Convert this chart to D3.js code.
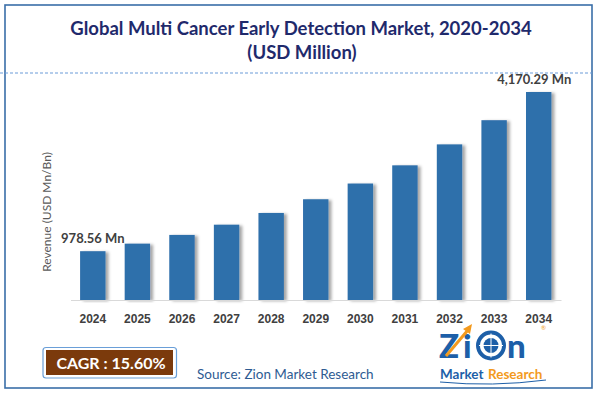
<!DOCTYPE html>
<html>
<head>
<meta charset="utf-8">
<style>
body { margin: 0; background: #fff; }
svg { display: block; font-family: Lato, "Open Sans", sans-serif; }
.xaxis text { font-size: 12px; font-weight: bold; fill: #404040; }
.xaxis path { stroke: #d9d9d9; }
.xaxis line { display: none; }
.label { font-size: 13px; font-weight: bold; fill: #404040; }
</style>
</head>
<body>
<svg width="598" height="394"></svg>
<script src="https://cdn.jsdelivr.net/npm/d3@7"></script>
<script>
var years = ["2024", "2025", "2026", "2027", "2028", "2029", "2030", "2031", "2032", "2033", "2034"];
var revenue = [978.56, 1130, 1305, 1510, 1745, 2020, 2335, 2700, 3120, 3605, 4170.29];
var labels = { "2024": "978.56 Mn", "2034": "4,170.29 Mn" };

var svg = d3.select("svg"),
    width = +svg.attr("width"),
    height = +svg.attr("height");

var defs = svg.append("defs");
var shadow = defs.append("filter").attr("id", "shadow")
    .attr("x", "-20%").attr("y", "-5%").attr("width", "160%").attr("height", "110%");
shadow.append("feDropShadow")
    .attr("dx", 3).attr("dy", 1).attr("stdDeviation", 1.6)
    .attr("flood-color", "#000").attr("flood-opacity", 0.35);

// outer frame
svg.append("rect")
    .attr("x", 5).attr("y", 5).attr("width", 587).attr("height", 383)
    .attr("fill", "none").attr("stroke", "#3a6ea8").attr("stroke-width", 1.6);

// title
svg.append("text")
    .attr("x", 301).attr("y", 35)
    .attr("text-anchor", "middle")
    .style("font-size", "18.5px").style("font-weight", "bold").style("fill", "#1f2a6c")
    .text("Global Multi Cancer Early Detection Market, 2020-2034");
svg.append("text")
    .attr("x", 302).attr("y", 59)
    .attr("text-anchor", "middle")
    .style("font-size", "18.5px").style("font-weight", "bold").style("fill", "#1f2a6c")
    .text("(USD Million)");

// dashed separator
svg.append("line")
    .attr("x1", 0).attr("x2", 592).attr("y1", 73).attr("y2", 73)
    .attr("stroke", "#6b9bd8").attr("stroke-width", 1).attr("stroke-dasharray", "3,2");

var x = d3.scaleBand()
    .domain(years)
    .range([70.5, 561])
    .paddingInner(0.43)
    .paddingOuter(0.215);

var y = d3.scaleLinear()
    .domain([0, d3.max(revenue)])
    .range([300, 92]);

var data = years.map(function(d, i) { return { year: d, value: revenue[i] }; });

svg.append("g")
    .selectAll("rect")
    .data(data)
    .enter().append("rect")
      .attr("x", function(d) { return x(d.year); })
      .attr("y", function(d) { return y(d.value); })
      .attr("width", x.bandwidth())
      .attr("height", function(d) { return y(0) - y(d.value); })
      .attr("fill", "#2f6fab")
      .attr("filter", "url(#shadow)");

svg.append("g")
    .attr("class", "xaxis")
    .attr("transform", "translate(0,300)")
    .call(d3.axisBottom(x).tickSizeOuter(0).tickPadding(8));

// value labels
svg.append("g")
    .selectAll("text")
    .data(data.filter(function(d) { return labels[d.year]; }))
    .enter().append("text")
      .attr("class", "label")
      .attr("x", function(d) { return x(d.year) + x.bandwidth() / 2 + (d.year === "2034" ? -4.5 : 0); })
      .attr("y", function(d) { return y(d.value) - 8; })
      .attr("text-anchor", "middle")
      .text(function(d) { return labels[d.year]; });

// y axis title
svg.append("text")
    .attr("transform", "translate(51,212) rotate(-90)")
    .attr("text-anchor", "middle")
    .style("font-size", "12px").style("fill", "#595959")
    .text("Revenue (USD Mn/Bn)");

// CAGR box
svg.append("rect")
    .attr("x", 43).attr("y", 347.5).attr("width", 133.5).attr("height", 30.5).attr("rx", 3)
    .attr("fill", "#fff").attr("stroke", "#6a9fd8").attr("stroke-width", 1.2);
svg.append("rect")
    .attr("x", 46).attr("y", 350).attr("width", 127).attr("height", 25)
    .attr("fill", "#7b3a0c");
svg.append("text")
    .attr("x", 111).attr("y", 368.5)
    .attr("text-anchor", "middle")
    .style("font-size", "16px").style("font-weight", "bold").style("fill", "#fff")
    .text("CAGR :  15.60%");

// source
svg.append("text")
    .attr("x", 197).attr("y", 379)
    .style("font-size", "13.5px").style("fill", "#2e5b92")
    .text("Source: Zion Market Research");

// logo
var logo = svg.append("g");
logo.append("text")
    .attr("x", 439).attr("y", 358)
    .style("font-size", "33px").style("font-weight", "900").style("fill", "#1d5fa8")
    .text("Z");
logo.append("text")
    .attr("x", 463).attr("y", 358)
    .style("font-size", "33px").style("font-weight", "900").style("fill", "#1d5fa8")
    .text("i");
logo.append("circle")
    .attr("cx", 491).attr("cy", 345.5).attr("r", 13)
    .attr("fill", "#fff").attr("stroke", "#1d5fa8").attr("stroke-width", 4);
logo.append("circle")
    .attr("cx", 491).attr("cy", 345.5).attr("r", 7.5)
    .attr("fill", "#1d5fa8");
logo.append("path")
    .attr("d", "M479,345.5 L503,345.5 M491,333.5 L491,357.5")
    .attr("stroke", "#fff").attr("stroke-width", 1);
logo.append("text")
    .attr("x", 507).attr("y", 358)
    .style("font-size", "33px").style("font-weight", "900").style("fill", "#1d5fa8")
    .text("n");
logo.append("path")
    .attr("d", "M446,356 L468,330")
    .attr("stroke", "#f39a1e").attr("stroke-width", 3).attr("fill", "none");
logo.append("path")
    .attr("d", "M463,329 L472,324 L470,334 Z")
    .attr("fill", "#f39a1e");
logo.append("text")
    .attr("x", 541).attr("y", 330)
    .style("font-size", "6px").style("fill", "#f39a1e")
    .text("®");
logo.append("text")
    .attr("x", 440).attr("y", 379)
    .style("font-size", "13.5px").style("font-weight", "bold").style("fill", "#1d5fa8")
    .text("Market");
logo.append("text")
    .attr("x", 488).attr("y", 379)
    .style("font-size", "13.5px").style("font-weight", "bold").style("fill", "#f39a1e")
    .text("Research");
logo.append("path")
    .attr("d", "M440,382 Q492,387 546,380")
    .attr("stroke", "#1d5fa8").attr("stroke-width", 1).attr("fill", "none");
</script>
</body>
</html>
